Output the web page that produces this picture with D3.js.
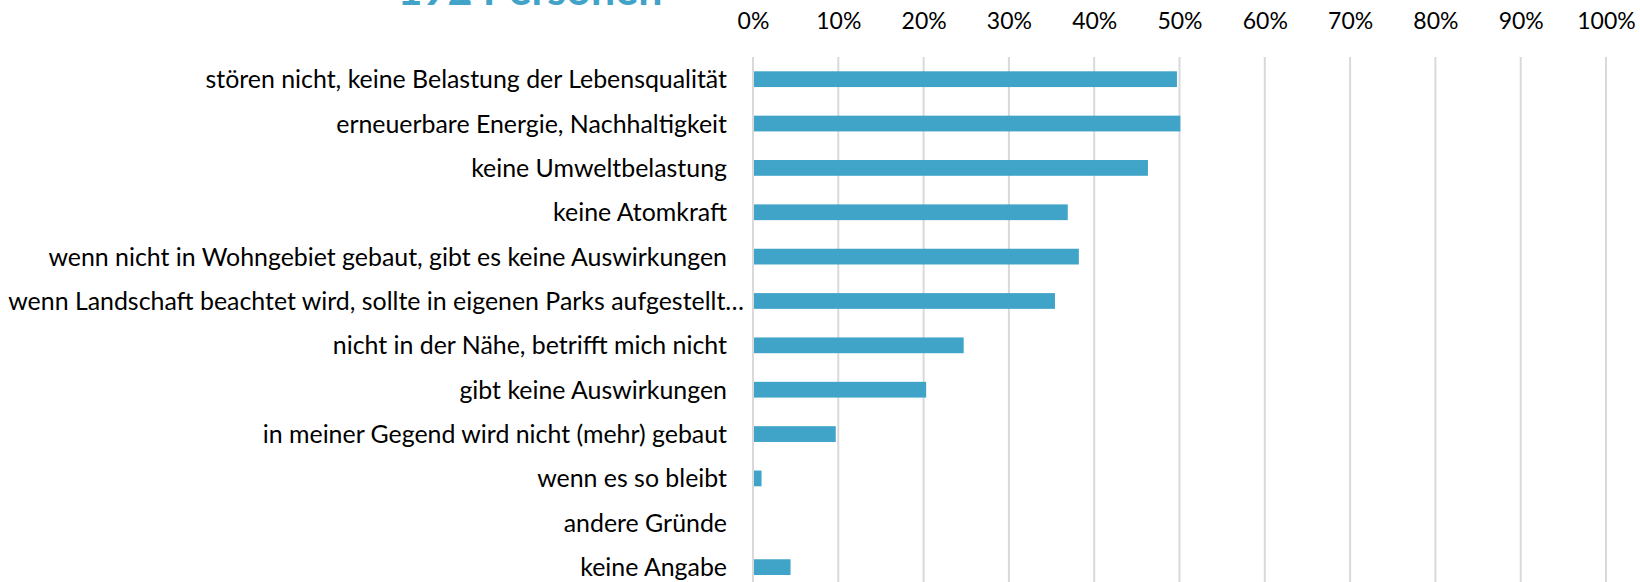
<!DOCTYPE html>
<html>
<head>
<meta charset="utf-8">
<script src="https://cdn.jsdelivr.net/npm/d3@7"></script>
<style>
  html, body { margin: 0; padding: 0; background: #fff; overflow: hidden; }
  svg text { font-family: Lato, "Open Sans", sans-serif; }
</style>
</head>
<body>
<div id="chart"></div>
<script>
// Gründe: Anteil der Befragten (192 Personen)
const categories = [
  'stören nicht, keine Belastung der Lebensqualität',
  'erneuerbare Energie, Nachhaltigkeit',
  'keine Umweltbelastung',
  'keine Atomkraft',
  'wenn nicht in Wohngebiet gebaut, gibt es keine Auswirkungen',
  'wenn Landschaft beachtet wird, sollte in eigenen Parks aufgestellt…',
  'nicht in der Nähe, betrifft mich nicht',
  'gibt keine Auswirkungen',
  'in meiner Gegend wird nicht (mehr) gebaut',
  'wenn es so bleibt',
  'andere Gründe',
  'keine Angabe'
];
const shares = [0.497, 0.501, 0.463, 0.369, 0.382, 0.354, 0.247, 0.203, 0.097, 0.010, 0, 0.044];
const tickValues = [0, 0.1, 0.2, 0.3, 0.4, 0.5, 0.6, 0.7, 0.8, 0.9, 1];
const titleText = '192 Personen';

(function(){
  const W = 1640, H = 582;
  const left = 753, right = 1606, top = 57, step = 44.36;

  const svg = d3.select('#chart').append('svg').attr('width', W).attr('height', H);

  const x = d3.scaleLinear().domain([0, 1]).range([left, right]);
  const y = d3.scaleBand().domain(categories)
    .range([top, top + step * categories.length]).paddingInner(0.645).paddingOuter(0.3225);

  // gridlines
  svg.append('g').selectAll('line').data(tickValues).enter().append('line')
    .attr('x1', d => x(d)).attr('x2', d => x(d))
    .attr('y1', top).attr('y2', H)
    .attr('stroke', '#d9d9d9').attr('stroke-width', 2);

  // tick labels on top
  const xAxis = d3.axisTop(x).tickValues(tickValues).tickFormat(d3.format('.0%')).tickSize(0);
  const ax = svg.append('g').attr('transform', 'translate(0,32)').call(xAxis);
  ax.select('.domain').remove();
  ax.selectAll('text').attr('font-size', 23).attr('fill', '#000').attr('dy', 0)
    .style('font-family', 'Lato, sans-serif');

  // bars
  svg.append('g').selectAll('rect').data(shares).enter().append('rect')
    .attr('x', x(0) + 1)
    .attr('y', (d, i) => y(categories[i]))
    .attr('width', d => Math.max(0, x(d) - x(0) - 1))
    .attr('height', y.bandwidth())
    .attr('fill', '#40a3c8');

  // category labels (truncated ones sit a bit further right, like in the original)
  svg.append('g').selectAll('text').data(categories).enter().append('text')
    .attr('x', d => x(0) - 26 + (d.endsWith('…') ? 17 : 0))
    .attr('y', d => y(d) + y.bandwidth() / 2 + 9)
    .attr('text-anchor', 'end')
    .attr('font-size', 24.9)
    .attr('fill', '#000')
    .text(d => d);

  // title (cut off at top edge)
  const t = svg.append('text').attr('x', 530).attr('y', 5)
    .attr('text-anchor', 'middle').attr('font-weight', 700)
    .attr('font-size', 40).attr('fill', '#41a3c8').text(titleText);
  const tw = t.node().getComputedTextLength();
  t.attr('font-size', 40 * 265 / tw);
})();
</script>
</body>
</html>
